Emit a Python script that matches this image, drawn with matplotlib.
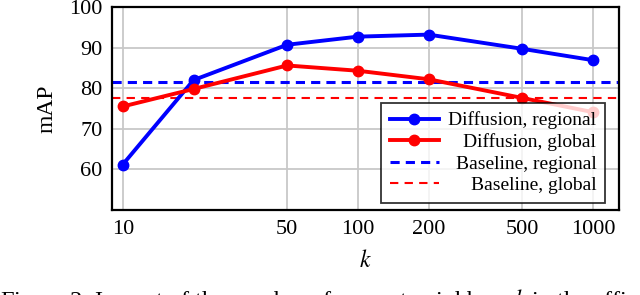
import numpy as np
import matplotlib.pyplot as plt

plt.rcParams['font.family'] = ['Liberation Serif', 'DejaVu Serif']
plt.rcParams['mathtext.fontset'] = 'stix'

k = [10, 20, 50, 100, 200, 500, 1000]
diff_regional = [61.2, 82.0, 90.7, 92.7, 93.2, 89.7, 86.9]
diff_global = [75.5, 79.8, 85.6, 84.3, 82.2, 77.6, 74.1]
base_regional = 81.5
base_global = 77.6
xticks = [10, 50, 100, 200, 500, 1000]
yticks = [60, 70, 80, 90, 100]

fig = plt.figure(figsize=(6.4, 2.95), dpi=100)
ax = fig.add_axes([112/640, 1 - 210/295, (619-112)/640, (210-7)/295])

ax.plot(k, diff_regional, color='blue', lw=2.8, marker='o', ms=7.5,
        label='Diffusion, regional', zorder=3)
ax.plot(k, diff_global, color='red', lw=2.8, marker='o', ms=7.5,
        label='Diffusion, global', zorder=3)
ax.axhline(base_regional, color='blue', lw=2.2, ls=(0, (3, 2)),
           label='Baseline, regional', zorder=2)
ax.axhline(base_global, color='red', lw=1.5, ls=(0, (4, 3)),
           label='Baseline, global', zorder=2)

ax.set_xscale('log')
ax.set_xlim(9, 1290)
ax.set_ylim(50, 100)
ax.set_xticks(xticks)
ax.set_xticklabels([str(t) for t in xticks])
ax.minorticks_off()
ax.set_yticks(yticks)
ax.tick_params(length=0, labelsize=16, pad=7)
ax.grid(True, color='#c8c8c8', lw=1.3)
ax.set_axisbelow(True)
for s in ax.spines.values():
    s.set_linewidth(1.6)

ax.set_ylabel('mAP', fontsize=17, labelpad=8)
ax.set_xlabel('$k$', fontsize=17, labelpad=8)

leg = ax.legend(loc='lower right', bbox_to_anchor=(0.9724, 0.0345),
                fontsize=14, fancybox=False, edgecolor='black',
                framealpha=0.8, borderaxespad=0, handlelength=2.5,
                handletextpad=0.5, labelspacing=0.2, borderpad=0.45)
leg.get_frame().set_linewidth(1.3)
fig.canvas.draw()
renderer = fig.canvas.get_renderer()
widths = [t.get_window_extent(renderer).width for t in leg.get_texts()]
maxw = max(widths)
for t, w in zip(leg.get_texts(), widths):
    t.set_position((maxw - w, 0))

fig.text(0.0, 1 - 287/295,
         'Figure 2. Impact of the number of nearest neighbors $k$ in the affinity graph on the performance.',
         fontsize=17.6, va='top', ha='left')

fig.savefig('out.png', dpi=100)
